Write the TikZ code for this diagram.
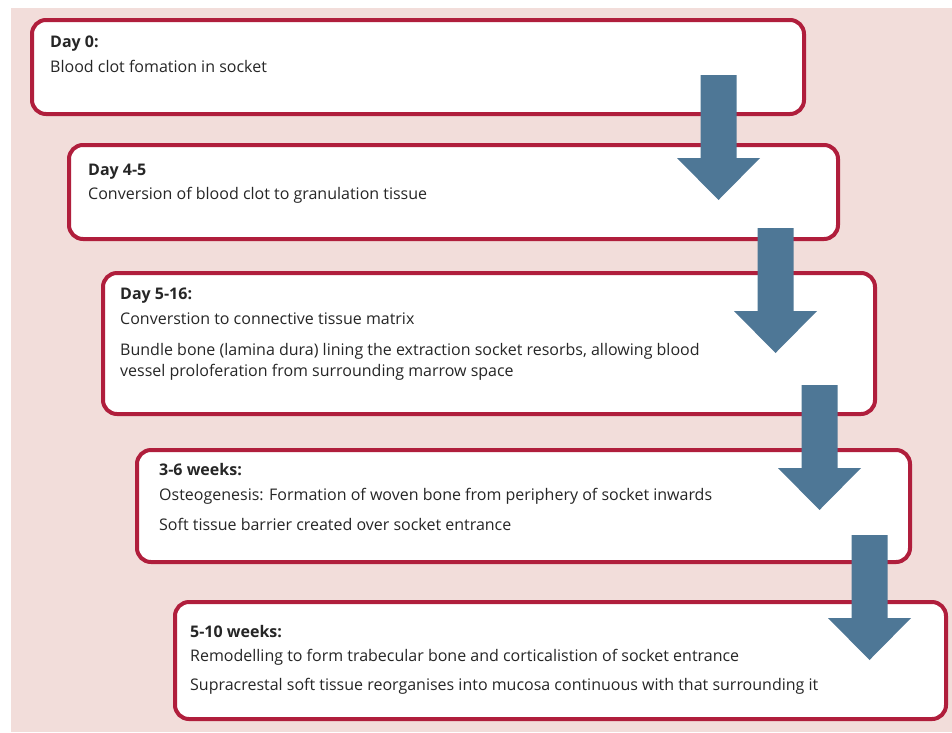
\documentclass[tikz,border=0pt]{standalone}
\usepackage{fontspec}
\setmainfont{Open Sans}
\definecolor{bgpink}{HTML}{F2DDDA}
\definecolor{boxred}{HTML}{B01E3C}
\definecolor{arrowblue}{HTML}{4E7796}

\begin{document}
\begin{tikzpicture}[x=1pt, y=-1pt,
    stage/.style={draw=boxred, line width=4pt, fill=white, rounded corners=14pt, anchor=north west, inner sep=0pt},
    stagetext/.style={anchor=north west, align=left, inner sep=0pt, text=black!85, font=\fontsize{16}{21}\selectfont},
    downarrow/.pic={\fill[arrowblue] (-18,0) -- (18,0) -- (18,83) -- (41.5,83) -- (0,125) -- (-41.5,83) -- (-18,83) -- cycle;}]
    \useasboundingbox (0,0) rectangle (952,732);
    \fill[bgpink] (11,8) rectangle (952,732);

    \node[stage, minimum width=772pt, minimum height=94pt] (day0) at (30,18) {};
    \node[stage, minimum width=769pt, minimum height=94pt] (day4) at (67,143) {};
    \node[stage, minimum width=772pt, minimum height=141pt] (day5) at (101,271) {};
    \node[stage, minimum width=773pt, minimum height=112pt] (wk3) at (135,448) {};
    \node[stage, minimum width=771pt, minimum height=117pt] (wk5) at (173,600) {};

    \node[stagetext] (day0txt) at ([shift={(20,18)}]day0.north west)
        {\textbf{Day 0:}\\[4pt] Blood clot fomation in socket};
    \node[stagetext] (day4txt) at ([shift={(21,21)}]day4.north west)
        {\textbf{Day 4-5}\\[3pt] Conversion of blood clot to granulation tissue};
    \node[stagetext] (day5txt) at ([shift={(19,17)}]day5.north west)
        {\textbf{Day 5-16:}\\[4pt] Converstion to connective tissue matrix\\[10pt]
         Bundle bone (lamina dura) lining the extraction socket resorbs, allowing blood\\
         vessel proloferation from surrounding marrow space};
    \node[stagetext] (wk3txt) at ([shift={(24,15)}]wk3.north west)
        {\textbf{3-6 weeks:}\\[4pt] Osteogenesis: Formation of woven bone from periphery of socket inwards\\[9pt]
         Soft tissue barrier created over socket entrance};
    \node[stagetext] (wk5txt) at ([shift={(17,25)}]wk5.north west)
        {\textbf{5-10 weeks:}\\[3pt] Remodelling to form trabecular bone and corticalistion of socket entrance\\[8pt]
         Supracrestal soft tissue reorganises into mucosa continuous with that surrounding it};

    \foreach \ax/\ay in {718.5/75, 775.5/228, 819.5/385, 869.5/535}
        \pic at (\ax,\ay) {downarrow};
\end{tikzpicture}
\end{document}
